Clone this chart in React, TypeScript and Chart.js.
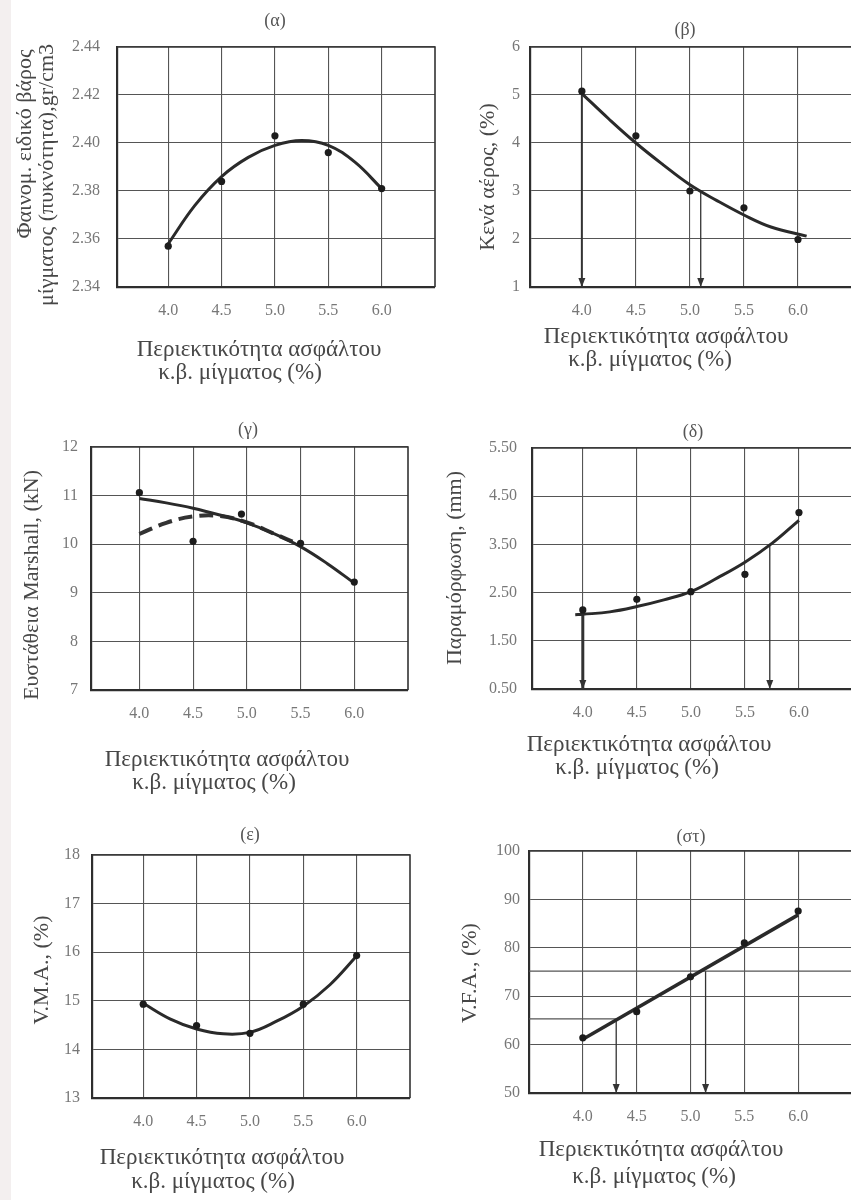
import { useEffect, useRef } from 'react';
import { Chart, registerables } from 'chart.js';

Chart.register(...registerables);

const FONT = '"Liberation Serif", "Times New Roman", "DejaVu Serif", serif';

// ---------- shared x axis ----------
const asphaltContent = [4.0, 4.5, 5.0, 5.5, 6.0];
const xTickLabels = ['4.0', '4.5', '5.0', '5.5', '6.0'];
const xAxisTitle = ['Περιεκτικότητα ασφάλτου', 'κ.β. μίγματος (%)'];

// ---------- (α) bulk specific gravity ----------
const densityTicks = [2.34, 2.36, 2.38, 2.4, 2.42, 2.44];
const densityTickLabels = ['2.34', '2.36', '2.38', '2.40', '2.42', '2.44'];
const densityMeasured = [2.357, 2.384, 2.403, 2.396, 2.381];
const densityCurveX = [4.0, 4.25, 4.5, 4.75, 5.0, 5.25, 5.5, 5.75, 6.0];
const densityCurveY = [2.358, 2.374, 2.386, 2.394, 2.399, 2.401, 2.399, 2.392, 2.381];

// ---------- (β) air voids ----------
const airVoidsTicks = [1, 2, 3, 4, 5, 6];
const airVoidsTickLabels = ['1', '2', '3', '4', '5', '6'];
const airVoidsMeasured = [5.08, 4.15, 3.0, 2.65, 1.99];
const airVoidsCurveX = [4.0, 4.25, 4.5, 4.75, 5.0, 5.25, 5.5, 5.75, 6.08];
const airVoidsCurveY = [5.03, 4.5, 4.0, 3.55, 3.13, 2.8, 2.5, 2.25, 2.06];
const airVoidsArrowX = [4.0, 5.1];
const airVoidsArrowFrom = [5.05, 2.99];
const airVoidsArrowWidth = [2, 1.3];

// ---------- (γ) Marshall stability ----------
const stabilityTicks = [7, 8, 9, 10, 11, 12];
const stabilityTickLabels = ['7', '8', '9', '10', '11', '12'];
const stabilityMeasuredX = [4.0, 4.5, 4.95, 5.5, 6.0];
const stabilityMeasured = [11.06, 10.06, 10.62, 10.02, 9.22];
const stabilityCurveX = [4.0, 4.25, 4.5, 4.75, 5.0, 5.25, 5.5, 5.75, 6.0];
const stabilityCurveY = [10.94, 10.85, 10.74, 10.6, 10.44, 10.22, 9.95, 9.6, 9.2];
const stabilityDashedX = [4.0, 4.25, 4.5, 4.75, 5.0, 5.25, 5.5];
const stabilityDashedY = [10.21, 10.44, 10.57, 10.58, 10.45, 10.22, 9.98];

// ---------- (δ) flow ----------
const flowTicks = [0.5, 1.5, 2.5, 3.5, 4.5, 5.5];
const flowTickLabels = ['0.50', '1.50', '2.50', '3.50', '4.50', '5.50'];
const flowMeasured = [2.14, 2.36, 2.52, 2.88, 4.16];
const flowCurveX = [3.93, 4.0, 4.25, 4.5, 4.75, 5.0, 5.25, 5.5, 5.75, 6.0];
const flowCurveY = [2.04, 2.05, 2.1, 2.21, 2.35, 2.52, 2.81, 3.13, 3.52, 4.0];
const flowArrowX = [4.0, 5.73];
const flowArrowFrom = [2.05, 3.48];
const flowArrowWidth = [3, 1.3];

// ---------- (ε) V.M.A. ----------
const vmaTicks = [13, 14, 15, 16, 17, 18];
const vmaTickLabels = ['13', '14', '15', '16', '17', '18'];
const vmaMeasured = [14.93, 14.49, 14.33, 14.93, 15.93];
const vmaCurveX = [4.0, 4.25, 4.5, 4.75, 5.0, 5.25, 5.5, 5.75, 6.0];
const vmaCurveY = [14.95, 14.63, 14.42, 14.32, 14.35, 14.58, 14.89, 15.33, 15.92];

// ---------- (στ) V.F.A. ----------
const vfaTicks = [50, 60, 70, 80, 90, 100];
const vfaTickLabels = ['50', '60', '70', '80', '90', '100'];
const vfaMeasured = [61.4, 66.8, 74.0, 81.0, 87.6];
const vfaLineX = [4.0, 6.0];
const vfaLineY = [61.1, 86.8];
const vfaRefLevels = [75.2, 65.3];
const vfaArrowX = [5.14, 4.31];

// ---------- dataset helpers ----------
const INK = '#2a2a2a';

function pairs(xs: number[], ys: number[]) {
  return xs.map((x, i) => ({ x, y: ys[i] }));
}
function curve(xs: number[], ys: number[], extra: any = {}) {
  return {
    data: pairs(xs, ys),
    borderColor: INK,
    borderWidth: 3,
    pointRadius: 0,
    tension: 0.4,
    fill: false,
    ...extra,
  };
}
function points(xs: number[], ys: number[]) {
  return {
    data: pairs(xs, ys),
    showLine: false,
    pointRadius: 3.6,
    pointBackgroundColor: '#1c1c1c',
    pointBorderWidth: 0,
  };
}
function arrow(x: number, from: number, to: number, width: number) {
  return {
    data: [{ x, y: from }, { x, y: to }],
    borderColor: '#333',
    borderWidth: width,
    pointRadius: 0,
    tension: 0,
    arrowHead: true,
  };
}
function hline(y: number, x0: number, x1: number) {
  return {
    data: [{ x: x0, y }, { x: x1, y }],
    borderColor: '#555',
    borderWidth: 1.2,
    pointRadius: 0,
    tension: 0,
  };
}

type TextItem = { text: string; x: number; y: number };
type Panel = {
  key: string;
  cx: number; cy: number; cw: number; ch: number;
  area: [number, number, number, number];
  xMin: number; xMax: number;
  yMin: number; yMax: number;
  yTicks: number[]; yLabels: string[]; yPad: number;
  title: TextItem;
  yTitle: TextItem[];
  xTitle: TextItem[];
  datasets: any[];
};

const panels: Panel[] = [
  {
    key: 'a', cx: 0, cy: 0, cw: 440, ch: 395,
    area: [117, 47, 435, 287],
    xMin: 3.52, xMax: 6.5, yMin: 2.34, yMax: 2.44,
    yTicks: densityTicks, yLabels: densityTickLabels, yPad: 17,
    title: { text: '(α)', x: 275, y: 21 },
    yTitle: [
      { text: 'Φαινομ. ειδικό βάρος', x: 25, y: 144 },
      { text: 'μίγματος (πυκνότητα),gr/cm3', x: 47, y: 175 },
    ],
    xTitle: [
      { text: xAxisTitle[0], x: 259, y: 350 },
      { text: xAxisTitle[1], x: 240, y: 373 },
    ],
    datasets: [
      points(asphaltContent, densityMeasured),
      curve(densityCurveX, densityCurveY),
    ],
  },
  {
    key: 'b', cx: 425, cy: 0, cw: 445, ch: 395,
    area: [530, 47, 852, 287],
    xMin: 3.52, xMax: 6.5, yMin: 1, yMax: 6,
    yTicks: airVoidsTicks, yLabels: airVoidsTickLabels, yPad: 10,
    title: { text: '(β)', x: 685, y: 30 },
    yTitle: [{ text: 'Κενά αέρος, (%)', x: 488, y: 177 }],
    xTitle: [
      { text: xAxisTitle[0], x: 666, y: 337 },
      { text: xAxisTitle[1], x: 650, y: 360 },
    ],
    datasets: [
      points(asphaltContent, airVoidsMeasured),
      curve(airVoidsCurveX, airVoidsCurveY),
      ...airVoidsArrowX.map((x, i) => arrow(x, airVoidsArrowFrom[i], 1, airVoidsArrowWidth[i])),
    ],
  },
  {
    key: 'c', cx: 0, cy: 395, cw: 440, ch: 400,
    area: [91, 447, 408, 690],
    xMin: 3.55, xMax: 6.5, yMin: 7, yMax: 12,
    yTicks: stabilityTicks, yLabels: stabilityTickLabels, yPad: 13,
    title: { text: '(γ)', x: 248, y: 430 },
    yTitle: [{ text: 'Ευστάθεια Marshall, (kN)', x: 32, y: 585 }],
    xTitle: [
      { text: xAxisTitle[0], x: 227, y: 760 },
      { text: xAxisTitle[1], x: 214, y: 783 },
    ],
    datasets: [
      points(stabilityMeasuredX, stabilityMeasured),
      curve(stabilityCurveX, stabilityCurveY),
      curve(stabilityDashedX, stabilityDashedY, { borderDash: [14, 7], borderWidth: 4, borderColor: '#333' }),
    ],
  },
  {
    key: 'd', cx: 425, cy: 395, cw: 445, ch: 400,
    area: [532, 448, 853, 689],
    xMin: 3.53, xMax: 6.5, yMin: 0.5, yMax: 5.5,
    yTicks: flowTicks, yLabels: flowTickLabels, yPad: 15,
    title: { text: '(δ)', x: 693, y: 432 },
    yTitle: [{ text: 'Παραμόρφωση, (mm)', x: 455, y: 568 }],
    xTitle: [
      { text: xAxisTitle[0], x: 649, y: 745 },
      { text: xAxisTitle[1], x: 637, y: 768 },
    ],
    datasets: [
      points(asphaltContent, flowMeasured),
      curve(flowCurveX, flowCurveY),
      ...flowArrowX.map((x, i) => arrow(x, flowArrowFrom[i], 0.5, flowArrowWidth[i])),
    ],
  },
  {
    key: 'e', cx: 0, cy: 795, cw: 440, ch: 405,
    area: [92, 855, 410, 1098],
    xMin: 3.52, xMax: 6.5, yMin: 13, yMax: 18,
    yTicks: vmaTicks, yLabels: vmaTickLabels, yPad: 12,
    title: { text: '(ε)', x: 250, y: 835 },
    yTitle: [{ text: 'V.M.A., (%)', x: 42, y: 970 }],
    xTitle: [
      { text: xAxisTitle[0], x: 222, y: 1158 },
      { text: xAxisTitle[1], x: 213, y: 1182 },
    ],
    datasets: [
      points(asphaltContent, vmaMeasured),
      curve(vmaCurveX, vmaCurveY),
    ],
  },
  {
    key: 'f', cx: 425, cy: 795, cw: 445, ch: 405,
    area: [529, 851, 852, 1093],
    xMin: 3.5, xMax: 6.5, yMin: 50, yMax: 100,
    yTicks: vfaTicks, yLabels: vfaTickLabels, yPad: 9,
    title: { text: '(στ)', x: 691, y: 837 },
    yTitle: [{ text: 'V.F.A., (%)', x: 470, y: 973 }],
    xTitle: [
      { text: xAxisTitle[0], x: 661, y: 1150 },
      { text: xAxisTitle[1], x: 654, y: 1177 },
    ],
    datasets: [
      points(asphaltContent, vfaMeasured),
      curve(vfaLineX, vfaLineY, { tension: 0, borderWidth: 3.5 }),
      hline(vfaRefLevels[0], 3.5, 6.5),
      hline(vfaRefLevels[1], 3.5, vfaArrowX[1]),
      ...vfaArrowX.map((x, i) => arrow(x, vfaRefLevels[i], 50, 1.3)),
    ],
  },
];

function makeDecor(p: Panel) {
  return {
    id: 'decor_' + p.key,
    afterDatasetsDraw(chart: any) {
      const ctx = chart.ctx;
      chart.data.datasets.forEach((ds: any, i: number) => {
        if (!ds.arrowHead) return;
        const meta = chart.getDatasetMeta(i);
        const pt = meta.data[meta.data.length - 1];
        if (!pt) return;
        ctx.save();
        ctx.fillStyle = '#333';
        ctx.beginPath();
        ctx.moveTo(pt.x, pt.y);
        ctx.lineTo(pt.x - 3.5, pt.y - 9);
        ctx.lineTo(pt.x + 3.5, pt.y - 9);
        ctx.closePath();
        ctx.fill();
        ctx.restore();
      });
    },
    afterDraw(chart: any) {
      const ctx = chart.ctx;
      const a = chart.chartArea;
      ctx.save();
      // top and right edges of the frame
      ctx.strokeStyle = '#333';
      ctx.lineWidth = 1.6;
      ctx.beginPath();
      ctx.moveTo(a.left, a.top);
      ctx.lineTo(a.right, a.top);
      ctx.lineTo(a.right, a.bottom);
      ctx.stroke();

      ctx.textAlign = 'center';
      ctx.textBaseline = 'middle';
      // panel title
      ctx.fillStyle = '#555';
      ctx.font = `18px ${FONT}`;
      ctx.fillText(p.title.text, p.title.x - p.cx, p.title.y - p.cy);
      // axis titles
      ctx.fillStyle = '#474747';
      ctx.font = `23px ${FONT}`;
      p.xTitle.forEach((t) => ctx.fillText(t.text, t.x - p.cx, t.y - p.cy));
      ctx.font = `22px ${FONT}`;
      p.yTitle.forEach((t) => {
        ctx.save();
        ctx.translate(t.x - p.cx, t.y - p.cy);
        ctx.rotate(-Math.PI / 2);
        ctx.fillText(t.text, 0, 0);
        ctx.restore();
      });
      ctx.restore();
    },
  };
}

function buildConfig(p: Panel): any {
  const [L, T, R, B] = p.area;
  return {
    type: 'line',
    data: { datasets: p.datasets },
    options: {
      animation: false,
      responsive: false,
      devicePixelRatio: 1,
      events: [],
      layout: { padding: { left: 0, top: T - p.cy, right: p.cx + p.cw - R, bottom: 0 } },
      plugins: {
        legend: { display: false },
        tooltip: { enabled: false },
        title: { display: false },
      },
      scales: {
        x: {
          type: 'linear',
          min: p.xMin,
          max: p.xMax,
          afterBuildTicks: (s: any) => {
            s.ticks = asphaltContent.map((v) => ({ value: v }));
          },
          afterFit: (s: any) => {
            s.height = p.cy + p.ch - B;
          },
          grid: { color: '#555', lineWidth: 1.1, drawTicks: false },
          border: { color: '#2e2e2e', width: 2.2 },
          ticks: {
            autoSkip: false,
            maxRotation: 0,
            padding: 14,
            color: '#777',
            font: { family: FONT, size: 16 },
            callback: (_v: any, i: number) => xTickLabels[i],
          },
        },
        y: {
          type: 'linear',
          min: p.yMin,
          max: p.yMax,
          afterBuildTicks: (s: any) => {
            s.ticks = p.yTicks.map((v) => ({ value: v }));
          },
          afterFit: (s: any) => {
            s.width = L - p.cx;
          },
          grid: { color: '#555', lineWidth: 1.1, drawTicks: false },
          border: { color: '#2e2e2e', width: 2.2 },
          ticks: {
            autoSkip: false,
            padding: p.yPad,
            color: '#777',
            font: { family: FONT, size: 16 },
            callback: (_v: any, i: number) => p.yLabels[i],
          },
        },
      },
    },
    plugins: [makeDecor(p)],
  };
}

export default function App() {
  const refs = useRef<(HTMLCanvasElement | null)[]>([]);

  useEffect(() => {
    const charts = panels.map((p, i) => new Chart(refs.current[i] as HTMLCanvasElement, buildConfig(p)));
    return () => charts.forEach((c) => c.destroy());
  }, []);

  return (
    <div
      style={{
        position: 'absolute',
        left: 0,
        top: 0,
        width: 851,
        height: 1200,
        overflow: 'hidden',
        background: '#ffffff',
      }}
    >
      <div style={{ position: 'absolute', left: 0, top: 0, width: 11, height: 1200, background: '#f3efef' }} />
      {panels.map((p, i) => (
        <canvas
          key={p.key}
          ref={(el) => {
            refs.current[i] = el;
          }}
          width={p.cw}
          height={p.ch}
          style={{ position: 'absolute', left: p.cx, top: p.cy, width: p.cw, height: p.ch }}
        />
      ))}
    </div>
  );
}
